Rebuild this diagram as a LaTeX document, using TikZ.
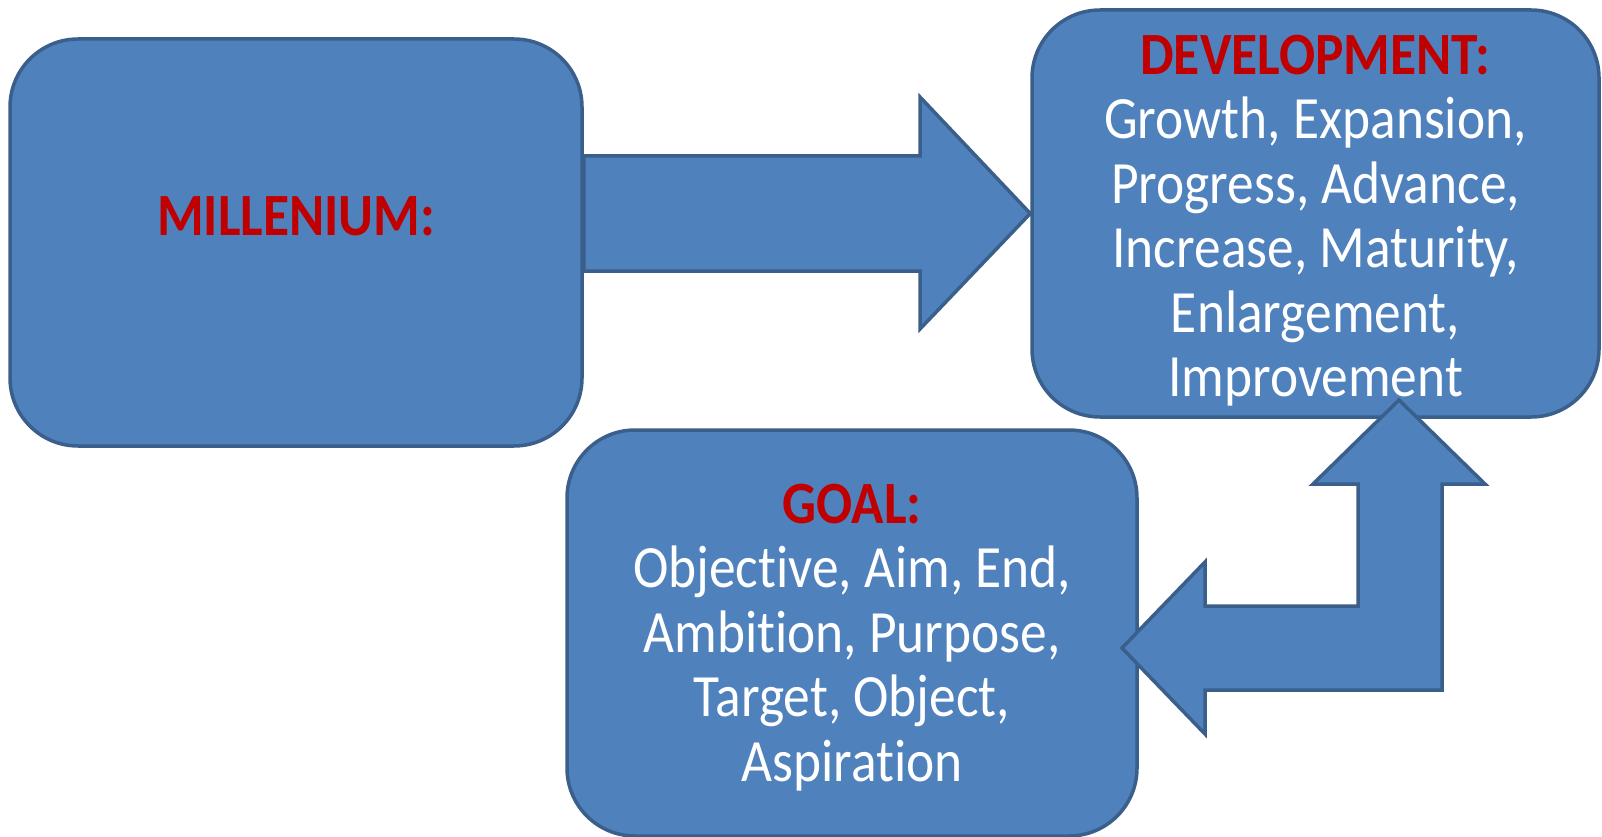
\documentclass[tikz,border=0pt]{standalone}
\usepackage{fontspec}
\setmainfont[FakeStretch=0.89, Ligatures=NoCommon]{Carlito}
\usetikzlibrary{calc}
\definecolor{boxfill}{HTML}{4F81BD}
\definecolor{boxline}{HTML}{3A5F8B}
\definecolor{headred}{HTML}{C00000}
\begin{document}
\begin{tikzpicture}[x=1pt,y=-1pt,
  box/.style={draw=boxline, fill=boxfill, line width=3.5pt, rounded corners=68pt, inner sep=0pt},
  blockarrow/.style={draw=boxline, fill=boxfill, line width=3.5pt, line join=miter},
  body/.style={text=white, align=center, inner sep=0pt, font=\fontsize{60}{64.5}\selectfont},
  headtxt/.style={text=headred, inner sep=0pt, font=\bfseries\fontsize{60}{64.5}\selectfont}]
\useasboundingbox (0,0) rectangle (1602,837);
% boxes
\node[box, minimum width=572pt, minimum height=407pt] (mil) at (296,242.5) {};
\node[box, minimum width=567pt, minimum height=407pt] (dev) at (1315.5,213.5) {};
\node[box, minimum width=570pt, minimum height=406pt] (goal) at (852,633) {};
% arrow millenium -> development
\draw[blockarrow] (mil.east |- 0,156) -- (920,156) -- (920,97) -- (dev.west)
  -- (920,329) -- (920,271) -- (mil.east |- 0,271) -- cycle;
% bent arrow development <-> goal
\coordinate (uptip) at (1399,400);
\coordinate (lefttip) at (1122,648);
\draw[blockarrow] (uptip) -- (1485,484) -- (1442,484) -- (1442,690) -- (1205,690)
  -- (1205,734) -- (lefttip) -- (1205,562) -- (1205,606) -- (1358,606)
  -- (1358,484) -- (1313,484) -- cycle;
% texts
\node[headtxt, anchor=base] (miltext) at (296,235) {MILLENIUM:};
\node[body, anchor=north] (devtext) at (1315.5,24)
  {\rule{0pt}{50pt}{\bfseries\color{headred}DEVELOPMENT:}\\Growth, Expansion,\\Progress, Advance,\\Increase, Maturity,\\Enlargement,\\Improvement};
\node[body, anchor=north] (goaltext) at (852,473)
  {\rule{0pt}{50pt}{\bfseries\color{headred}GOAL:}\\Objective, Aim, End,\\Ambition, Purpose,\\Target, Object,\\Aspiration};
\end{tikzpicture}
\end{document}
